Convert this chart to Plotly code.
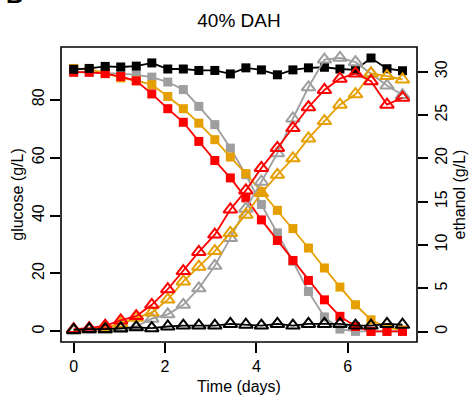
import plotly.graph_objects as go

# ---- data ----
time_days = [0.00, 0.34, 0.69, 1.03, 1.37, 1.71, 2.06, 2.40, 2.74, 3.09, 3.43,
             3.77, 4.11, 4.46, 4.80, 5.14, 5.49, 5.83, 6.17, 6.51, 6.86, 7.20]

glucose_black = [90.5, 90.8, 91.5, 91.3, 91.6, 92.7, 90.6, 90.6, 90.1, 90.1, 88.9,
                 91.0, 90.3, 88.6, 90.3, 91.0, 91.2, 90.6, 90.3, 94.4, 90.7, 90.0]
glucose_gray = [89.5, 89.4, 89.2, 89.0, 88.6, 87.8, 86.1, 83.5, 77.7, 71.4, 63.3,
                54.1, 43.8, 34.0, 24.2, 13.8, 5.0, 0.8, 0.0, 0.0, 0.0, 0.0]
glucose_orange = [90.8, 90.5, 89.3, 87.5, 86.6, 85.2, 81.1, 76.9, 71.9, 66.2, 60.2,
                  54.5, 48.3, 41.8, 35.5, 28.8, 21.9, 15.3, 9.2, 4.0, 1.2, 0.5]
glucose_red = [89.5, 89.5, 89.0, 88.0, 86.5, 82.0, 76.9, 72.2, 65.6, 59.0, 53.0,
               46.1, 38.5, 31.4, 24.5, 17.6, 10.9, 5.2, 1.7, 0.0, 0.0, 0.0]

ethanol_black = [0.2, 0.3, 0.3, 0.4, 0.5, 0.4, 0.6, 0.7, 0.7, 0.7, 0.9,
                 0.8, 0.7, 0.9, 0.7, 0.9, 0.9, 0.9, 0.7, 0.7, 0.9, 0.8]
ethanol_gray = [0.1, 0.2, 0.2, 0.3, 0.6, 1.5, 2.0, 3.1, 5.0, 7.6, 10.8,
                14.2, 17.3, 20.6, 24.6, 28.2, 31.4, 31.6, 31.1, 29.8, 28.4, 27.3]
ethanol_orange = [0.2, 0.3, 0.5, 0.9, 1.6, 2.2, 3.7, 5.8, 7.5, 9.3, 11.4,
                  13.5, 16.0, 18.1, 20.0, 22.3, 24.3, 26.2, 27.4, 29.8, 29.5, 29.1]
ethanol_red = [0.3, 0.4, 0.7, 1.3, 1.8, 3.1, 4.9, 7.0, 9.2, 11.2, 14.1,
               16.3, 18.9, 21.2, 23.5, 25.9, 27.9, 29.2, 29.8, 28.9, 26.2, 27.0]

x_ticks = [0, 2, 4, 6]
glucose_ticks = [0, 20, 40, 60, 80]
ethanol_ticks = [0, 5, 10, 15, 20, 25, 30]

# ---- styles ----
C_BLACK = "#000000"
C_GRAY = "#9E9E9E"
C_ORANGE = "#E69F00"
C_RED = "#FF0000"
FONT = "Liberation Sans, Arial, sans-serif"

fig = go.Figure()

series = [
    (glucose_gray, ethanol_gray, C_GRAY),
    (glucose_orange, ethanol_orange, C_ORANGE),
    (glucose_red, ethanol_red, C_RED),
    (glucose_black, ethanol_black, C_BLACK),
]

for glc, eth, col in series:
    fig.add_trace(go.Scatter(
        x=time_days, y=eth, yaxis="y2", mode="lines+markers",
        line=dict(color=col, width=1.8),
        marker=dict(symbol="triangle-up-open", size=12, color=col,
                    line=dict(color=col, width=2)),
        showlegend=False, hoverinfo="skip"))

for glc, eth, col in series:
    fig.add_trace(go.Scatter(
        x=time_days, y=glc, yaxis="y", mode="lines+markers",
        line=dict(color=col, width=1.8),
        marker=dict(symbol="square", size=9, color=col, line=dict(width=0)),
        showlegend=False, hoverinfo="skip"))

fig.add_shape(type="rect", xref="paper", yref="paper", x0=0, x1=1, y0=0, y1=1,
              line=dict(color="black", width=1.6), layer="above")

fig.add_annotation(text="<b>B</b>", xref="paper", yref="paper",
                   x=-0.13, y=1.125, xanchor="center", yanchor="bottom",
                   showarrow=False, font=dict(size=24, color="black", family=FONT))

axis_common = dict(showgrid=False, zeroline=False, showline=False,
                   ticks="outside", ticklen=10, tickwidth=1.5, tickcolor="black",
                   tickfont=dict(size=16, color="black", family=FONT))

fig.update_layout(
    width=470, height=396,
    margin=dict(l=61, r=53, t=47, b=54, autoexpand=False),
    paper_bgcolor="white", plot_bgcolor="white",
    font=dict(family=FONT, color="black"),
    title=dict(text="40% DAH", x=0.5, xref="paper", y=1 - 20 / 396, yanchor="middle",
               font=dict(size=19, color="black", family=FONT)),
    xaxis=dict(range=[-0.278, 7.517], tickvals=x_ticks,
               title=dict(text="Time (days)", font=dict(size=16), standoff=6),
               **axis_common),
    yaxis=dict(range=[-3.66, 98.2], tickvals=glucose_ticks, tickangle=-90,
               title=dict(text="glucose (g/L)", font=dict(size=16), standoff=1),
               **axis_common),
    yaxis2=dict(range=[-1.19, 32.85], tickvals=ethanol_ticks, tickangle=-90,
                overlaying="y", side="right",
                title=dict(text="ethanol (g/L)", font=dict(size=16), standoff=4),
                **axis_common),
)

fig.write_html("out.html", config={"displayModeBar": False},
               post_script="document.body.style.margin='0';document.body.style.padding='0';")
